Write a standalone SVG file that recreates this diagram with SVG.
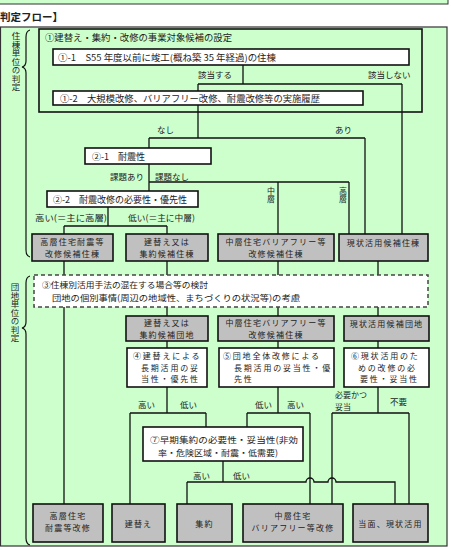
<svg xmlns="http://www.w3.org/2000/svg" width="451" height="550" viewBox="0 0 451 550">
<defs>
<style>
text{font-family:"Noto Sans CJK JP","Noto Sans CJK SC",sans-serif;font-size:9px;fill:#222}
.lb{font-size:8.5px}
.s8{font-size:8px;letter-spacing:1.2px}
.sp{font-size:8px;letter-spacing:1.8px}
.m{text-anchor:middle}
.v{writing-mode:vertical-rl;font-size:8.5px}
.box{stroke:#111;stroke-width:1.6}
.w{fill:#fff}
.g{fill:#c0c0c0}
.gr{fill:#ccffcc}
.c path{fill:none;stroke:#111;stroke-width:1.3}
.br{fill:none;stroke:#111;stroke-width:1.2}
</style>
</defs>
<rect width="451" height="550" fill="#fff"/>
<rect x="-2" y="-2" width="450" height="6" class="gr" stroke="#333" stroke-width="1"/>
<text x="0" y="21" font-weight="bold" style="font-size:10.5px">判定フロー】</text>
<rect x="0.5" y="27" width="446.5" height="519" class="gr" stroke="#333" stroke-width="1.2"/>

<g id="label-jutou">
<path class="br" d="M30 30 Q26 31 26 37 V61 Q26 66 22 67 Q26 68 26 73 V250 Q26 256 30 257"/>
<text class="v" x="16" y="32">住棟単位の判定</text>
</g>
<g id="label-danchi">
<path class="br" d="M30 276 Q26 277 26 283 V322 Q26 327 22 328 Q26 329 26 334 V538 Q26 544 30 545"/>
<text class="v" x="15" y="283">団地単位の判定</text>
</g>

<g id="n1">
<rect x="39" y="29" width="383" height="83" class="gr box"/>
<text x="45" y="41" textLength="187" lengthAdjust="spacingAndGlyphs">①建替え・集約・改修の事業対象候補の設定</text>
</g>

<g class="c" id="connectors">
<path d="M243 65 V84 M198 84 H402 M198 84 V91 M402 84 V234"/>
<path d="M198 105 V138 M149 138 H365 M149 138 V148 M365 138 V234"/>
<path d="M149 164 V191 M149 182 H349 M278 182 V234 M349 182 V234"/>
<path d="M108 207 V226 M64 226 H167 M64 226 V234 M167 226 V234"/>
<path d="M64 261 V275 M167 261 V275 M278 261 V275 M378 261 V275"/>
<path d="M64 307 V504 M167 307 V316 M278 307 V316 M378 307 V316"/>
<path d="M167 341 V348 M278 341 V348 M378 341 V348"/>
<path d="M167 387 V413 M130 413 H206 M130 413 V504 M206 413 V427"/>
<path d="M278 387 V413 M247 413 H310 M247 413 V427 M310 413 V504"/>
<path d="M378 387 V413 M332 413 H409 M332 413 V504 M409 413 V504"/>
<path d="M223 461 V482 M187 482 V504 M187 482 H306 A4 4 0 0 1 314 482 H328 A4 4 0 0 1 336 482 H395 V504"/>
</g>

<g id="n1-1">
<rect x="53" y="49" width="356" height="16" class="w box"/>
<text x="58" y="60.5" textLength="218" lengthAdjust="spacingAndGlyphs">①-1　S55 年度以前に竣工(概ね築 35 年経過)の住棟</text>
</g>
<g id="n1-2">
<rect x="53" y="91" width="310" height="14" class="w box"/>
<text x="60" y="101.5" textLength="260" lengthAdjust="spacingAndGlyphs">①-2　大規模改修、バリアフリー改修、耐震改修等の実施履歴</text>
</g>
<g id="n2-1">
<rect x="85" y="148" width="126" height="16" class="w box"/>
<text x="92" y="159.5">②-1　耐震性</text>
</g>
<g id="n2-2">
<rect x="47" y="191" width="151" height="16" class="w box"/>
<text x="53" y="202.5" textLength="134" lengthAdjust="spacingAndGlyphs">②-2　耐震改修の必要性・優先性</text>
</g>

<g id="edge-labels">
<text class="lb" x="198" y="78">該当する</text>
<text class="lb" x="368" y="78">該当しない</text>
<text class="lb" x="157" y="133">なし</text>
<text class="lb" x="335" y="133">あり</text>
<text class="lb" x="110" y="180">課題あり</text>
<text class="lb" x="155" y="180">課題なし</text>
<text class="v" x="271" y="187" style="font-size:8px">中層</text>
<text class="v" x="343" y="187" style="font-size:8px">高層</text>
<text class="lb" x="35" y="221" textLength="72" lengthAdjust="spacingAndGlyphs">高い(＝主に高層)</text>
<text class="lb" x="128" y="221" textLength="67" lengthAdjust="spacingAndGlyphs">低い(＝主に中層)</text>
<text class="lb" x="138" y="408">高い</text>
<text class="lb" x="180" y="408">低い</text>
<text class="lb" x="255" y="408">低い</text>
<text class="lb" x="287" y="408">高い</text>
<text x="335" y="398" style="font-size:8px">必要かつ</text>
<text x="335" y="409.6" style="font-size:8px">妥当</text>
<text class="lb" x="390" y="405">不要</text>
<text class="lb" x="193" y="479">高い</text>
<text class="lb" x="233" y="479">低い</text>
</g>

<g id="r1a">
<rect x="32" y="234" width="81" height="27" class="g box"/>
<text class="m s8" x="72.5" y="245">高層住宅耐震等</text>
<text class="m s8" x="72.5" y="256.6">改修候補住棟</text>
</g>
<g id="r1b">
<rect x="126" y="234" width="82" height="27" class="g box"/>
<text class="m s8" x="167" y="245">建替え又は</text>
<text class="m s8" x="167" y="256.6">集約候補住棟</text>
</g>
<g id="r1c">
<rect x="218" y="234" width="116" height="27" class="g box"/>
<text class="m s8" x="276" y="245">中層住宅バリアフリー等</text>
<text class="m s8" x="276" y="256.6">改修候補住棟</text>
</g>
<g id="r1d">
<rect x="339" y="234" width="89" height="27" class="g box"/>
<text class="m s8" x="383.5" y="246">現状活用候補住棟</text>
</g>

<g id="n3">
<rect x="34" y="275" width="394" height="32" fill="#fff" stroke="#444" stroke-width="1.5" stroke-dasharray="4,3"/>
<text x="42" y="288" style="font-size:8.5px" textLength="166" lengthAdjust="spacingAndGlyphs">③住棟別活用手法の混在する場合等の検討</text>
<text x="52" y="301" style="font-size:8.5px" textLength="248" lengthAdjust="spacingAndGlyphs">団地の個別事情(周辺の地域性、まちづくりの状況等)の考慮</text>
</g>

<g id="r2b">
<rect x="126" y="316" width="82" height="25" class="g box"/>
<text class="m s8" x="167" y="326">建替え又は</text>
<text class="m s8" x="167" y="337.6">集約候補団地</text>
</g>
<g id="r2c">
<rect x="218" y="316" width="116" height="25" class="g box"/>
<text class="m s8" x="276" y="326">中層住宅バリアフリー等</text>
<text class="m s8" x="276" y="337.6">改修候補住棟</text>
</g>
<g id="r2d">
<rect x="344" y="316" width="85" height="25" class="g box"/>
<text class="m s8" x="386.5" y="327">現状活用候補団地</text>
</g>

<g id="n4">
<rect x="127" y="348" width="80" height="39" class="w box"/>
<text class="sp" x="133" y="359">④建替えによる</text>
<text class="sp" x="141" y="370.6">長期活用の妥</text>
<text class="sp" x="141" y="382.2">当性・優先性</text>
</g>
<g id="n5">
<rect x="219" y="348" width="115" height="39" class="w box"/>
<text class="sp" x="223" y="359">⑤団地全体改修による</text>
<text class="sp" x="234" y="370.6">長期活用の妥当性・優</text>
<text class="sp" x="234" y="382.2">先性</text>
</g>
<g id="n6">
<rect x="344" y="348" width="85" height="39" class="w box"/>
<text class="sp" x="351" y="359">⑥現状活用のた</text>
<text class="sp" x="358" y="370.6">めの改修の必</text>
<text class="sp" x="360" y="382.2">要性・妥当性</text>
</g>
<g id="n7">
<rect x="143" y="427" width="160" height="34" class="w box"/>
<text x="150" y="443" style="font-size:8.5px" textLength="148" lengthAdjust="spacingAndGlyphs">⑦早期集約の必要性・妥当性(非効</text>
<text x="158" y="455.6" style="font-size:8.5px" textLength="120" lengthAdjust="spacingAndGlyphs">率・危険区域・耐震・低需要)</text>
</g>

<g id="f1">
<rect x="33" y="504" width="70" height="38" class="g box"/>
<text class="m s8" x="68" y="519">高層住宅</text>
<text class="m s8" x="68" y="530.6">耐震等改修</text>
</g>
<g id="f2">
<rect x="112" y="504" width="53" height="38" class="g box"/>
<text class="m s8" x="138.5" y="526.5">建替え</text>
</g>
<g id="f3">
<rect x="177" y="504" width="55" height="38" class="g box"/>
<text class="m s8" x="204.5" y="526.5">集約</text>
</g>
<g id="f4">
<rect x="243" y="504" width="100" height="38" class="g box"/>
<text class="m s8" x="293" y="519">中層住宅</text>
<text class="m s8" x="293" y="530.6">バリアフリー等改修</text>
</g>
<g id="f5">
<rect x="353" y="504" width="75" height="38" class="g box"/>
<text class="m s8" x="390.5" y="526.5">当面、現状活用</text>
</g>
</svg>
